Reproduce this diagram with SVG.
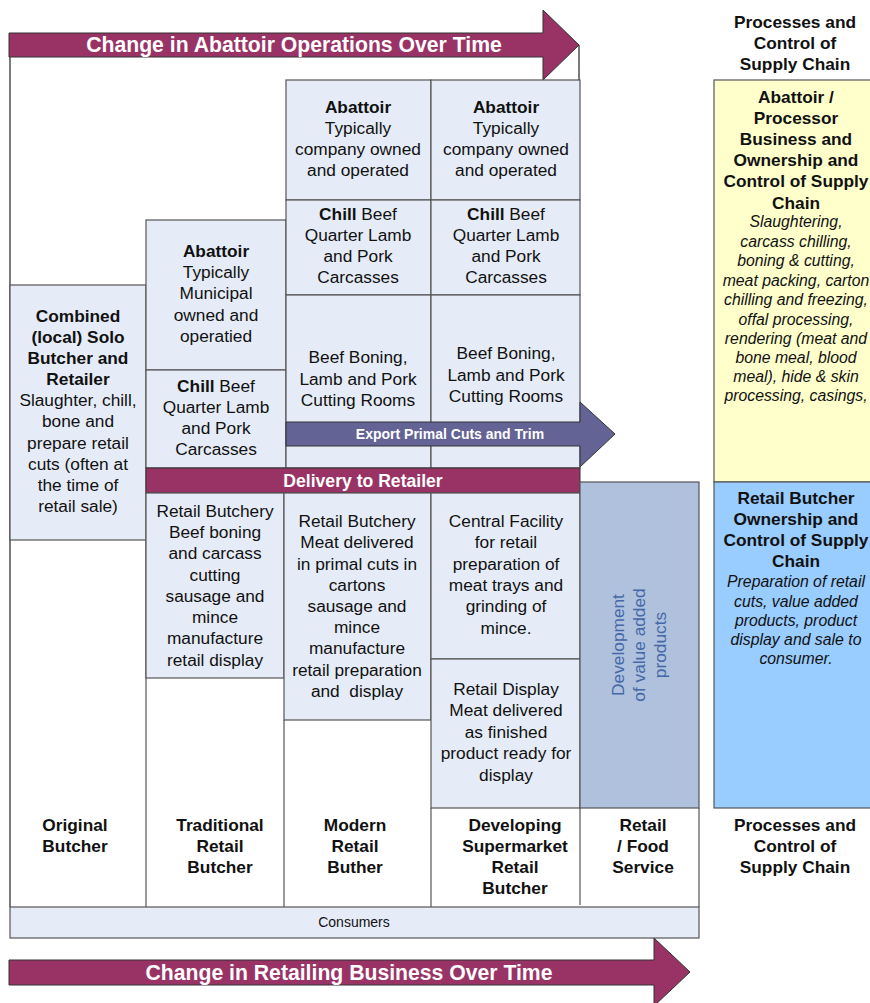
<svg xmlns="http://www.w3.org/2000/svg" width="870" height="1003" viewBox="0 0 870 1003">
<style>
text{font-family:"Liberation Sans",Arial,sans-serif;fill:#111;text-anchor:middle}
.t{font-size:17.3px}
.b{font-weight:bold}
.i{font-style:italic;font-size:15.8px}
.cell{fill:#e6ecf7;stroke:#555;stroke-width:1.2}
.frame{fill:none;stroke:#222;stroke-width:1.2}
.big{fill:#993366;stroke:#333;stroke-width:1}
.wt{fill:#fff;font-weight:bold}
</style>
<rect width="870" height="1003" fill="#fff"/>
<g id="frame">
<line class="frame" x1="10" y1="57" x2="10" y2="907"/>
<line class="frame" x1="579" y1="45" x2="579" y2="80"/>
<line x1="146" y1="540" x2="146" y2="907" stroke="#555" stroke-width="1.2"/>
<line x1="284" y1="720" x2="284" y2="907" stroke="#555" stroke-width="1.2"/>
<line x1="431" y1="808" x2="431" y2="907" stroke="#555" stroke-width="1.2"/>
<line x1="580" y1="808" x2="580" y2="905" stroke="#555" stroke-width="1.2"/>
<line x1="699" y1="808" x2="699" y2="907" stroke="#555" stroke-width="1.2"/>
</g>
<g id="arrow-abattoir">
<polygon class="big" points="9,33 543,33 543,10 579,45 543,80 543,57 9,57"/>
<text class="wt" x="294" y="52" font-size="21.2">Change in Abattoir Operations Over Time</text>
</g>
<g id="original">
<rect class="cell" x="10" y="285" width="136" height="255"/>
<text class="t" x="78"><tspan class="b" x="78" y="322">Combined</tspan><tspan class="b" x="78" y="343">(local) Solo</tspan><tspan class="b" x="78" y="364">Butcher and</tspan><tspan class="b" x="78" y="385">Retailer</tspan><tspan x="78" y="406">Slaughter, chill,</tspan><tspan x="78" y="427">bone and</tspan><tspan x="78" y="449">prepare retail</tspan><tspan x="78" y="470">cuts (often at</tspan><tspan x="78" y="491">the time of</tspan><tspan x="78" y="512">retail sale)</tspan></text>
</g>
<g id="trad-abattoir">
<rect class="cell" x="146" y="220" width="140" height="150"/>
<text class="t" x="216"><tspan class="b" x="216" y="257">Abattoir</tspan><tspan x="216" y="278">Typically</tspan><tspan x="216" y="299">Municipal</tspan><tspan x="216" y="321">owned and</tspan><tspan x="216" y="342">operatied</tspan></text>
</g>
<g id="trad-chill">
<rect class="cell" x="146" y="370" width="140" height="98"/>
<text class="t" x="216"><tspan x="216" y="392"><tspan class="b">Chill</tspan> Beef</tspan><tspan x="216" y="413">Quarter Lamb</tspan><tspan x="216" y="434">and Pork</tspan><tspan x="216" y="455">Carcasses</tspan></text>
</g>
<g id="mod-abattoir">
<rect class="cell" x="286" y="80" width="145" height="120"/>
<text class="t" x="358"><tspan class="b" x="358" y="113">Abattoir</tspan><tspan x="358" y="134">Typically</tspan><tspan x="358" y="155">company owned</tspan><tspan x="358" y="176">and operated</tspan></text>
</g>
<g id="dev-abattoir">
<rect class="cell" x="431" y="80" width="149" height="120"/>
<text class="t" x="506"><tspan class="b" x="506" y="113">Abattoir</tspan><tspan x="506" y="134">Typically</tspan><tspan x="506" y="155">company owned</tspan><tspan x="506" y="176">and operated</tspan></text>
</g>
<g id="mod-chill">
<rect class="cell" x="286" y="200" width="145" height="95"/>
<text class="t" x="358"><tspan x="358" y="220"><tspan class="b">Chill</tspan> Beef</tspan><tspan x="358" y="241">Quarter Lamb</tspan><tspan x="358" y="262">and Pork</tspan><tspan x="358" y="283">Carcasses</tspan></text>
</g>
<g id="dev-chill">
<rect class="cell" x="431" y="200" width="149" height="95"/>
<text class="t" x="506"><tspan x="506" y="220"><tspan class="b">Chill</tspan> Beef</tspan><tspan x="506" y="241">Quarter Lamb</tspan><tspan x="506" y="262">and Pork</tspan><tspan x="506" y="283">Carcasses</tspan></text>
</g>
<g id="mod-boning">
<rect class="cell" x="286" y="295" width="145" height="173"/>
<text class="t" x="358"><tspan x="358" y="363">Beef Boning,</tspan><tspan x="358" y="385">Lamb and Pork</tspan><tspan x="358" y="406">Cutting Rooms</tspan></text>
</g>
<g id="dev-boning">
<rect class="cell" x="431" y="295" width="149" height="173"/>
<text class="t" x="506"><tspan x="506" y="359">Beef Boning,</tspan><tspan x="506" y="381">Lamb and Pork</tspan><tspan x="506" y="402">Cutting Rooms</tspan></text>
</g>
<g id="export">
<polygon points="286,422 580,422 580,402 615,434 580,467 580,446 286,446" fill="#636396" stroke="#333" stroke-width="1"/>
<text class="wt" x="450" y="439" font-size="14">Export Primal Cuts and Trim</text>
</g>
<g id="delivery">
<rect x="146" y="468" width="434" height="25" fill="#993366" stroke="#333" stroke-width="1"/>
<text class="wt" x="363" y="487" font-size="17.6">Delivery to Retailer</text>
</g>
<g id="trad-retail">
<rect class="cell" x="146" y="493" width="138" height="185"/>
<text class="t" x="215"><tspan x="215" y="517">Retail Butchery</tspan><tspan x="215" y="538">Beef boning</tspan><tspan x="215" y="559">and carcass</tspan><tspan x="215" y="581">cutting</tspan><tspan x="215" y="602">sausage and</tspan><tspan x="215" y="623">mince</tspan><tspan x="215" y="644">manufacture</tspan><tspan x="215" y="666">retail display</tspan></text>
</g>
<g id="mod-retail">
<rect class="cell" x="284" y="493" width="147" height="227"/>
<text class="t" x="357"><tspan x="357" y="527">Retail Butchery</tspan><tspan x="357" y="548">Meat delivered</tspan><tspan x="357" y="570">in primal cuts in</tspan><tspan x="357" y="591">cartons</tspan><tspan x="357" y="612">sausage and</tspan><tspan x="357" y="633">mince</tspan><tspan x="357" y="654">manufacture</tspan><tspan x="357" y="676">retail preparation</tspan><tspan x="357" y="697" xml:space="preserve">and  display</tspan></text>
</g>
<g id="dev-central">
<rect class="cell" x="431" y="493" width="149" height="166"/>
<text class="t" x="506"><tspan x="506" y="527">Central Facility</tspan><tspan x="506" y="548">for retail</tspan><tspan x="506" y="570">preparation of</tspan><tspan x="506" y="591">meat trays and</tspan><tspan x="506" y="612">grinding of</tspan><tspan x="506" y="634">mince.</tspan></text>
</g>
<g id="dev-display">
<rect class="cell" x="431" y="659" width="149" height="149"/>
<text class="t" x="506"><tspan x="506" y="695">Retail Display</tspan><tspan x="506" y="716">Meat delivered</tspan><tspan x="506" y="738">as finished</tspan><tspan x="506" y="759">product ready for</tspan><tspan x="506" y="781">display</tspan></text>
</g>
<g id="value-added">
<rect x="580" y="482" width="119" height="326" fill="#afc1dc" stroke="#555" stroke-width="1.2"/>
<text class="t" transform="translate(639,645) rotate(-90)" style="fill:#4468a8"><tspan x="0" y="-15">Development</tspan><tspan x="0" y="6">of value added</tspan><tspan x="0" y="27">products</tspan></text>
</g>
<g id="header-right">
<text class="t b" x="795"><tspan x="795" y="28">Processes and</tspan><tspan x="795" y="49">Control of</tspan><tspan x="795" y="70">Supply Chain</tspan></text>
</g>
<g id="abattoir-control">
<rect x="714" y="80" width="170" height="402" fill="#ffffcc" stroke="#555" stroke-width="1.2"/>
<text class="t" x="796"><tspan class="b" x="796" y="103">Abattoir /</tspan><tspan class="b" x="796" y="124">Processor</tspan><tspan class="b" x="796" y="145">Business and</tspan><tspan class="b" x="796" y="166">Ownership and</tspan><tspan class="b" x="796" y="187">Control of Supply</tspan><tspan class="b" x="796" y="209">Chain</tspan></text>
<text class="i" x="796"><tspan x="796" y="227">Slaughtering,</tspan><tspan x="796" y="247">carcass chilling,</tspan><tspan x="796" y="266">boning &amp; cutting,</tspan><tspan x="796" y="286">meat packing, carton</tspan><tspan x="796" y="305">chilling and freezing,</tspan><tspan x="796" y="325">offal processing,</tspan><tspan x="796" y="344">rendering (meat and</tspan><tspan x="796" y="363">bone meal, blood</tspan><tspan x="796" y="382">meal), hide &amp; skin</tspan><tspan x="796" y="401">processing, casings,</tspan></text>
</g>
<g id="retail-control">
<rect x="714" y="482" width="170" height="326" fill="#99ccff" stroke="#555" stroke-width="1.2"/>
<text class="t" x="796"><tspan class="b" x="796" y="504">Retail Butcher</tspan><tspan class="b" x="796" y="525">Ownership and</tspan><tspan class="b" x="796" y="546">Control of Supply</tspan><tspan class="b" x="796" y="567">Chain</tspan></text>
<text class="i" x="796"><tspan x="796" y="587">Preparation of retail</tspan><tspan x="796" y="607">cuts, value added</tspan><tspan x="796" y="626">products, product</tspan><tspan x="796" y="645">display and sale to</tspan><tspan x="796" y="664">consumer.</tspan></text>
</g>
<g id="footer-labels">
<text class="t b" x="75"><tspan x="75" y="831">Original</tspan><tspan x="75" y="852">Butcher</tspan></text>
<text class="t b" x="220"><tspan x="220" y="831">Traditional</tspan><tspan x="220" y="852">Retail</tspan><tspan x="220" y="873">Butcher</tspan></text>
<text class="t b" x="355"><tspan x="355" y="831">Modern</tspan><tspan x="355" y="852">Retail</tspan><tspan x="355" y="873">Buther</tspan></text>
<text class="t b" x="515"><tspan x="515" y="831">Developing</tspan><tspan x="515" y="852">Supermarket</tspan><tspan x="515" y="873">Retail</tspan><tspan x="515" y="894">Butcher</tspan></text>
<text class="t b" x="643"><tspan x="643" y="831">Retail</tspan><tspan x="643" y="852">/ Food</tspan><tspan x="643" y="873">Service</tspan></text>
<text class="t b" x="795"><tspan x="795" y="831">Processes and</tspan><tspan x="795" y="852">Control of</tspan><tspan x="795" y="873">Supply Chain</tspan></text>
</g>
<g id="consumers">
<rect x="10" y="907" width="689" height="31" fill="#e6ecf7" stroke="#555" stroke-width="1.2"/>
<text x="354" y="927" font-size="14">Consumers</text>
</g>
<g id="arrow-retail">
<polygon class="big" points="9,960 654,960 654,938 690,972 654,1006 654,985 9,985"/>
<text class="wt" x="349" y="980" font-size="21.2">Change in Retailing Business Over Time</text>
</g>
</svg>
